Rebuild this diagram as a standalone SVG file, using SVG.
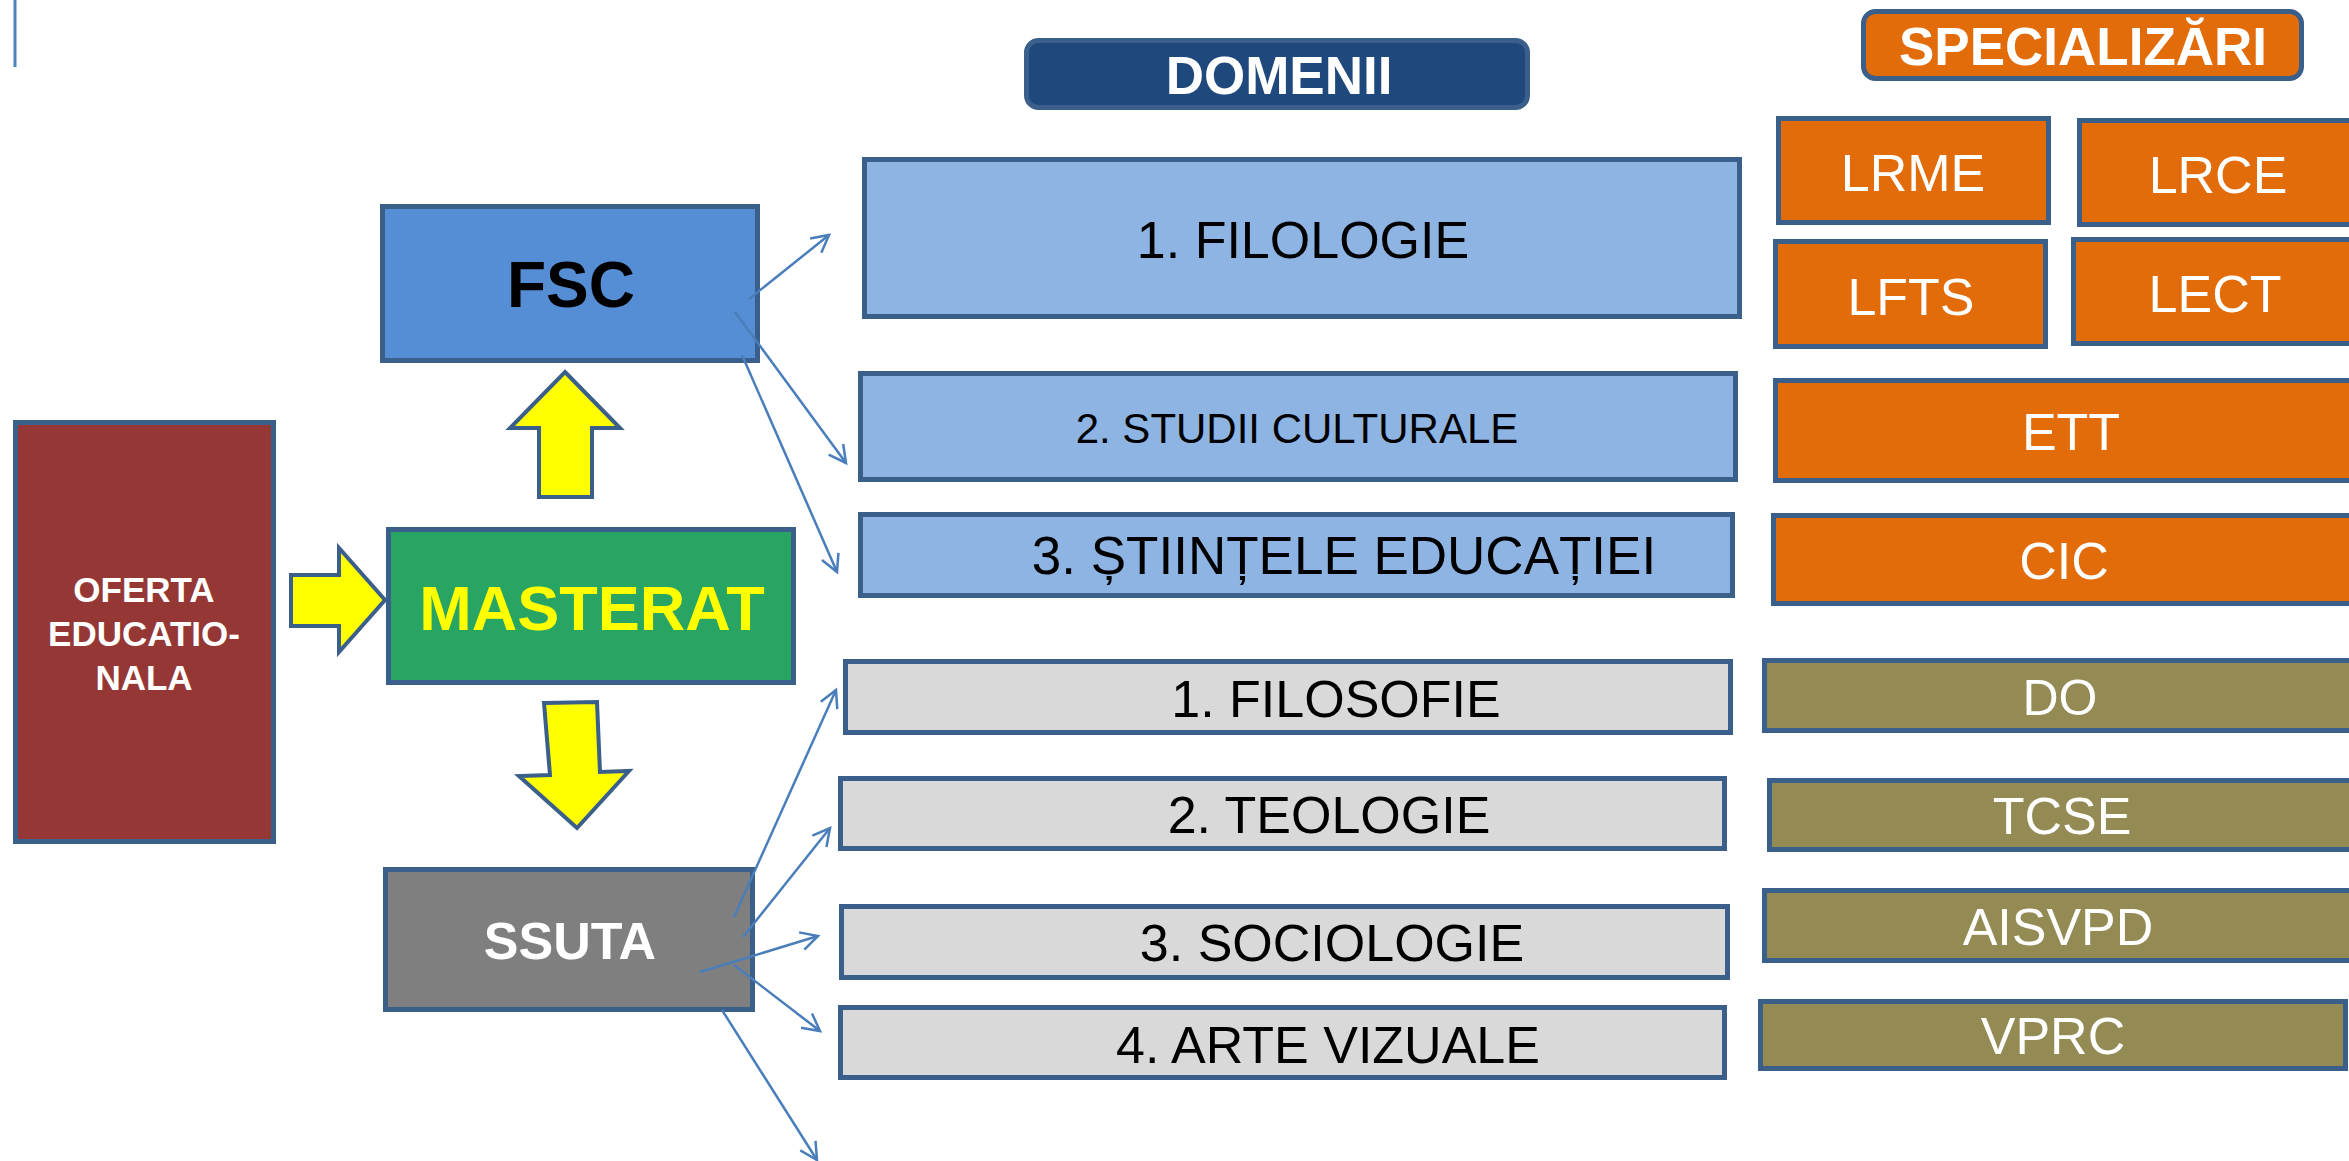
<svg xmlns="http://www.w3.org/2000/svg" width="2349" height="1161" viewBox="0 0 2349 1161">
<defs>
<style>
.box{stroke:#3A5F8B;stroke-width:5}
.t{font-family:"Liberation Sans",Arial,sans-serif;text-anchor:middle}
.b{font-weight:bold}
.w{fill:#FFFFFF}
.k{fill:#000000}
.lb{fill:#8EB4E3}
.gr{fill:#D9D9D9}
.or{fill:#E36C0A}
.ol{fill:#948A54}
.ya{fill:#FFFF00;stroke:#3A5F8B;stroke-width:4;stroke-linejoin:miter}
.con{stroke:#4A7EBB;stroke-width:2.5;fill:none}
</style>
<marker id="arr" markerUnits="userSpaceOnUse" viewBox="0 0 20 20" refX="18" refY="10" markerWidth="20" markerHeight="20" orient="auto" overflow="visible">
<path d="M1,1 L18,10 L1,19" fill="none" stroke="#4A7EBB" stroke-width="2.5"/>
</marker>
</defs>
<rect width="2349" height="1161" fill="#FFFFFF"/>
<g id="marker-line"><line x1="15" y1="0" x2="15" y2="67" stroke="#4F81BD" stroke-width="3"/></g>

<g id="oferta"><rect class="box" x="15.5" y="422.5" width="258" height="419" fill="#953735"/>
<text class="t b w" font-size="35" x="144" y="602">OFERTA</text>
<text class="t b w" font-size="35" x="144" y="646">EDUCATIO-</text>
<text class="t b w" font-size="35" x="144" y="690">NALA</text></g>

<g id="fsc"><rect class="box" x="382.5" y="206.5" width="375" height="154" fill="#558ED5"/>
<text class="t b k" font-size="64" x="571" y="307">FSC</text></g>

<g id="masterat"><rect class="box" x="388.5" y="529.5" width="405" height="153" fill="#28A562"/>
<text class="t b" font-size="63" fill="#FFFF00" x="592" y="630">MASTERAT</text></g>

<g id="ssuta"><rect class="box" x="385.5" y="869.5" width="367" height="140" fill="#7F7F7F"/>
<text class="t b w" font-size="52" x="570" y="959">SSUTA</text></g>

<g id="arrow-right"><polygon class="ya" points="291,575 339,575 339,548 385,600 339,652 339,626 291,626"/></g>
<g id="arrow-up"><polygon class="ya" points="565,372 620,428 592,428 592,497 539,497 539,428 510,428"/></g>
<g id="arrow-down"><polygon class="ya" points="544,703 597,702 600,772 629,771 577,828 519,776 550,775"/></g>

<g id="domenii"><rect class="box" x="1026.5" y="40.5" width="501" height="67" rx="12" fill="#1F497D" stroke="#3D6494"/>
<text class="t b w" font-size="53" x="1279" y="94">DOMENII</text></g>

<g id="filologie"><rect class="box lb" x="864.5" y="159.5" width="875" height="157"/>
<text class="t k" font-size="52" x="1303" y="258">1. FILOLOGIE</text></g>
<g id="studii"><rect class="box lb" x="860.5" y="373.5" width="875" height="106"/>
<text class="t k" font-size="42" x="1297" y="443">2. STUDII CULTURALE</text></g>
<g id="stiinte"><rect class="box lb" x="860.5" y="514.5" width="872" height="81"/>
<text class="t k" font-size="53" x="1344" y="574">3. ȘTIINȚELE EDUCAȚIEI</text></g>
<g id="filosofie"><rect class="box gr" x="845.5" y="661.5" width="885" height="71"/>
<text class="t k" font-size="52" x="1336" y="717">1. FILOSOFIE</text></g>
<g id="teologie"><rect class="box gr" x="840.5" y="778.5" width="884" height="70"/>
<text class="t k" font-size="52" x="1329" y="833">2. TEOLOGIE</text></g>
<g id="sociologie"><rect class="box gr" x="841.5" y="906.5" width="886" height="71"/>
<text class="t k" font-size="52" x="1332" y="961">3. SOCIOLOGIE</text></g>
<g id="arte"><rect class="box gr" x="840.5" y="1007.5" width="884" height="70"/>
<text class="t k" font-size="52" x="1328" y="1063">4. ARTE VIZUALE</text></g>

<g id="specializari"><rect class="box or" x="1863.5" y="11.5" width="438" height="67" rx="12"/>
<text class="t b w" font-size="53" x="2083" y="65">SPECIALIZĂRI</text></g>
<g id="lrme"><rect class="box or" x="1778.5" y="118.5" width="270" height="104"/>
<text class="t w" font-size="52" x="1913" y="191">LRME</text></g>
<g id="lrce"><rect class="box or" x="2079.5" y="120.5" width="290" height="104"/>
<text class="t w" font-size="52" x="2218" y="193">LRCE</text></g>
<g id="lfts"><rect class="box or" x="1775.5" y="241.5" width="270" height="105"/>
<text class="t w" font-size="52" x="1911" y="315">LFTS</text></g>
<g id="lect"><rect class="box or" x="2073.5" y="239.5" width="300" height="104"/>
<text class="t w" font-size="52" x="2215" y="312">LECT</text></g>
<g id="ett"><rect class="box or" x="1775.5" y="380.5" width="600" height="100"/>
<text class="t w" font-size="52" x="2071" y="450">ETT</text></g>
<g id="cic"><rect class="box or" x="1773.5" y="515.5" width="600" height="88"/>
<text class="t w" font-size="52" x="2064" y="579">CIC</text></g>
<g id="do"><rect class="box ol" x="1764.5" y="660.5" width="600" height="70"/>
<text class="t w" font-size="50" x="2060" y="715">DO</text></g>
<g id="tcse"><rect class="box ol" x="1769.5" y="780.5" width="600" height="69"/>
<text class="t w" font-size="52" x="2062" y="834">TCSE</text></g>
<g id="aisvpd"><rect class="box ol" x="1764.5" y="890.5" width="600" height="70"/>
<text class="t w" font-size="52" x="2058" y="945">AISVPD</text></g>
<g id="vprc"><rect class="box ol" x="1760.5" y="1001.5" width="585" height="67"/>
<text class="t w" font-size="52" x="2053" y="1054">VPRC</text></g>

<g id="connectors">
<line class="con" x1="749" y1="299" x2="829" y2="235" marker-end="url(#arr)"/>
<line class="con" x1="735" y1="312" x2="846" y2="463" marker-end="url(#arr)"/>
<line class="con" x1="742" y1="355" x2="837" y2="572" marker-end="url(#arr)"/>
<line class="con" x1="734" y1="917" x2="836" y2="690" marker-end="url(#arr)"/>
<line class="con" x1="743" y1="937" x2="830" y2="828" marker-end="url(#arr)"/>
<line class="con" x1="700" y1="972" x2="818" y2="936" marker-end="url(#arr)"/>
<line class="con" x1="734" y1="965" x2="820" y2="1031" marker-end="url(#arr)"/>
<line class="con" x1="722" y1="1010" x2="817" y2="1160" marker-end="url(#arr)"/>
</g>
</svg>
